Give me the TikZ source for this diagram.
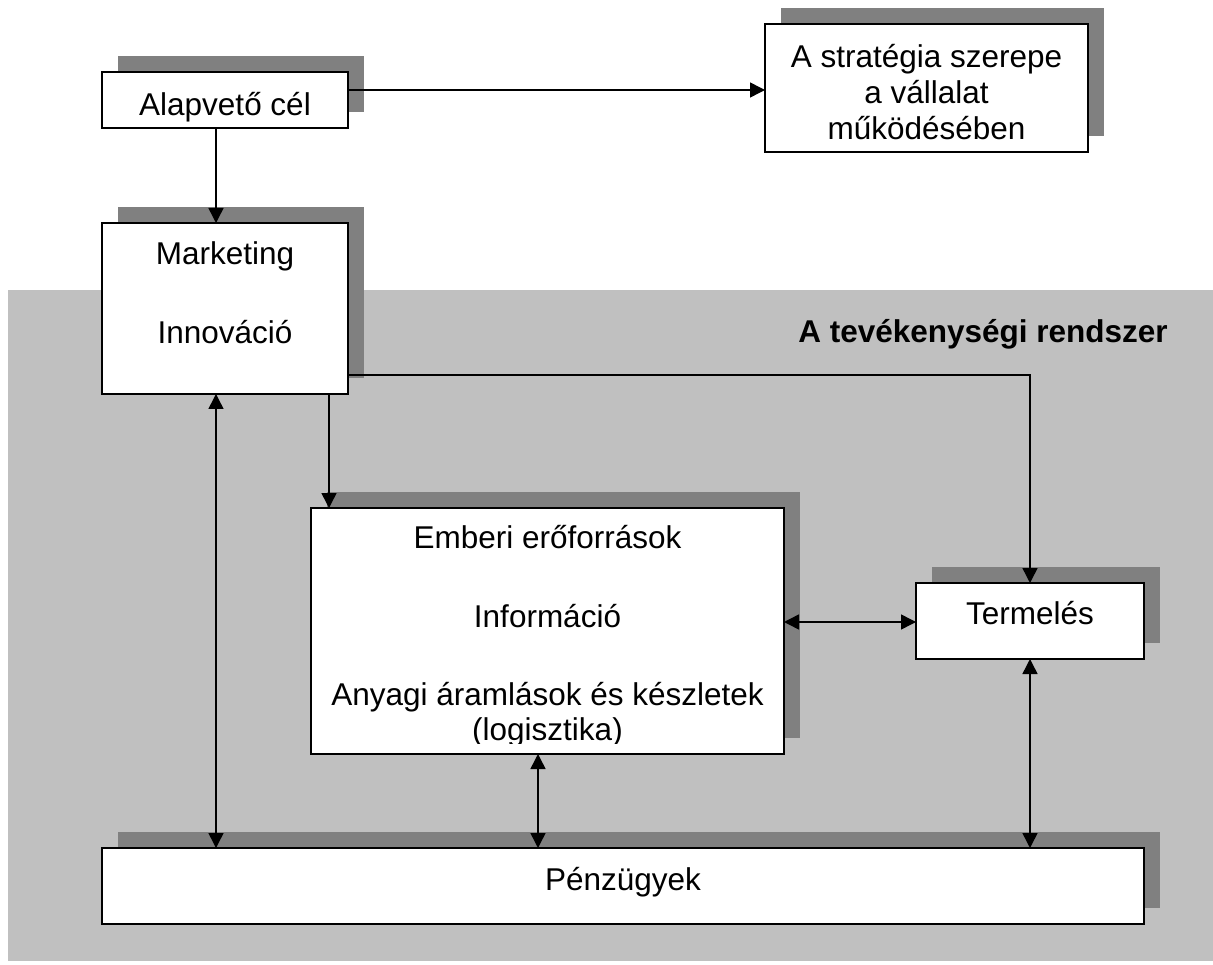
\documentclass[tikz,border=0pt]{standalone}
\usepackage{fontspec}
\setmainfont{Liberation Sans}
\usetikzlibrary{arrows.meta,shadows}
\definecolor{areagray}{HTML}{C0C0C0}
\definecolor{shadowgray}{HTML}{808080}
\begin{document}
\begin{tikzpicture}[x=1pt,y=-1pt,
  box/.style={draw=black, line width=1.8pt, fill=white, inner sep=0pt, outer sep=0pt,
    drop shadow={shadow xshift=16pt, shadow yshift=16pt, fill=shadowgray, opacity=1}},
  txt/.style={anchor=base, inner sep=0pt, font=\fontsize{31.5}{36}\selectfont},
  conn/.style={line width=1.5pt, -{Triangle[length=15pt,width=15pt]}},
  dconn/.style={line width=1.5pt, {Triangle[length=15pt,width=15pt]}-{Triangle[length=15pt,width=15pt]}}]
  \useasboundingbox (0,0) rectangle (1213,965);

  % activity system area
  \fill[areagray] (8,290) rectangle (1213,961);
  \node[anchor=base east, inner sep=0pt, font=\fontsize{31.5}{36}\selectfont\bfseries] (sysT) at (1168,343) {A tevékenységi rendszer};

  % boxes
  \node[box, minimum width=246pt, minimum height=56pt] (alap) at (225,100) {};
  \node[box, minimum width=323pt, minimum height=128pt] (strat) at (926.5,88) {};
  \node[box, minimum width=246pt, minimum height=171pt] (mark) at (225,308.5) {};
  \node[box, minimum width=473pt, minimum height=246pt] (ember) at (547.5,631) {};
  \node[box, minimum width=228pt, minimum height=76pt] (term) at (1030,621) {};
  \node[box, minimum width=1042pt, minimum height=76pt] (penz) at (623,886) {};

  % box texts
  \node[txt] (alapT) at (225,116) {Alapvető cél};
  \node[txt] (stratA) at (926.5,68) {A stratégia szerepe};
  \node[txt] (stratB) at (926.5,104) {a vállalat};
  \node[txt] (stratC) at (926.5,140) {működésében};
  \node[txt] (markA) at (225,265) {Marketing};
  \node[txt] (markB) at (225,344) {Innováció};
  \begin{scope}
    % text area ends a little above the lower border
    \clip (ember.north west) rectangle ([yshift=11pt]ember.south east);
    \node[txt] (emberA) at (547.5,548) {Emberi erőforrások};
    \node[txt] (emberB) at (547.5,627) {Információ};
    \node[txt] (emberC) at (547.5,705) {Anyagi áramlások és készletek};
    \node[txt] (emberD) at (547.5,740) {(logisztika)};
  \end{scope}
  \node[txt] (termT) at (1030,624) {Termelés};
  \node[txt] (penzT) at (623,890) {Pénzügyek};

  % connectors
  \draw[conn] (alap.east |- 0,90) -- (strat.west |- 0,90);
  \draw[conn] (alap.south -| 216,0) -- (mark.north -| 216,0);
  \draw[conn] (mark.east |- 0,375) -| (term.north);
  \draw[conn] (mark.south -| 329,0) -- (ember.north -| 329,0);
  \draw[dconn] (mark.south -| 216,0) -- (penz.north -| 216,0);
  \draw[dconn] (ember.south -| 538,0) -- (penz.north -| 538,0);
  \draw[dconn] (term.south) -- (penz.north -| term.south);
  \draw[dconn] (ember.east |- 0,622) -- (term.west |- 0,622);
\end{tikzpicture}
\end{document}
